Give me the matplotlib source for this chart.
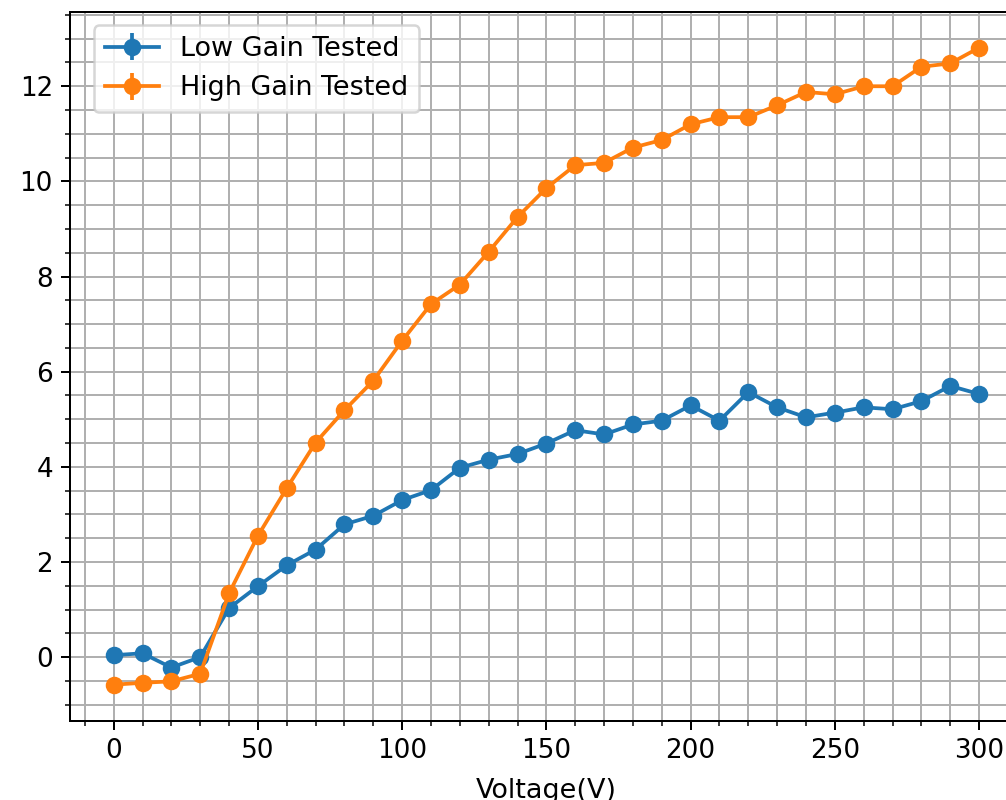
import matplotlib
matplotlib.use("Agg")
import matplotlib.pyplot as plt
from matplotlib.ticker import MultipleLocator

# Data
voltage = [0, 10, 20, 30, 40, 50, 60, 70, 80, 90, 100, 110, 120, 130, 140, 150,
           160, 170, 180, 190, 200, 210, 220, 230, 240, 250, 260, 270, 280, 290, 300]
low_gain = [0.04, 0.08, -0.22, 0.0, 1.03, 1.49, 1.93, 2.26, 2.79, 2.97, 3.30, 3.51,
            3.98, 4.15, 4.27, 4.49, 4.77, 4.68, 4.89, 4.97, 5.29, 4.97, 5.57, 5.25,
            5.04, 5.14, 5.25, 5.21, 5.38, 5.70, 5.53]
high_gain = [-0.58, -0.54, -0.51, -0.35, 1.34, 2.55, 3.55, 4.51, 5.19, 5.81, 6.65, 7.42,
             7.83, 8.52, 9.25, 9.86, 10.34, 10.39, 10.71, 10.87, 11.20, 11.35, 11.35, 11.60,
             11.88, 11.83, 12.00, 12.00, 12.41, 12.48, 12.81]
err = 0.08

fig = plt.figure(figsize=(1007 / 180, 800 / 180), dpi=180)
ax = fig.add_axes([0.0699, 0.0991, 0.9454, 0.8863])

ax.errorbar(voltage, low_gain, yerr=err, marker='o', label='Low Gain Tested')
ax.errorbar(voltage, high_gain, yerr=err, marker='o', label='High Gain Tested')

ax.xaxis.set_minor_locator(MultipleLocator(10))
ax.yaxis.set_minor_locator(MultipleLocator(0.5))
ax.tick_params(labelsize=10.5)
ax.grid(which='both')
ax.set_axisbelow(True)
ax.set_xlabel('Voltage(V)', fontsize=10.8, labelpad=5.5)
ax.legend(loc='upper left', bbox_to_anchor=(0.0104, 1.0), fontsize=10.8)

fig.savefig('out.png', dpi=180)
